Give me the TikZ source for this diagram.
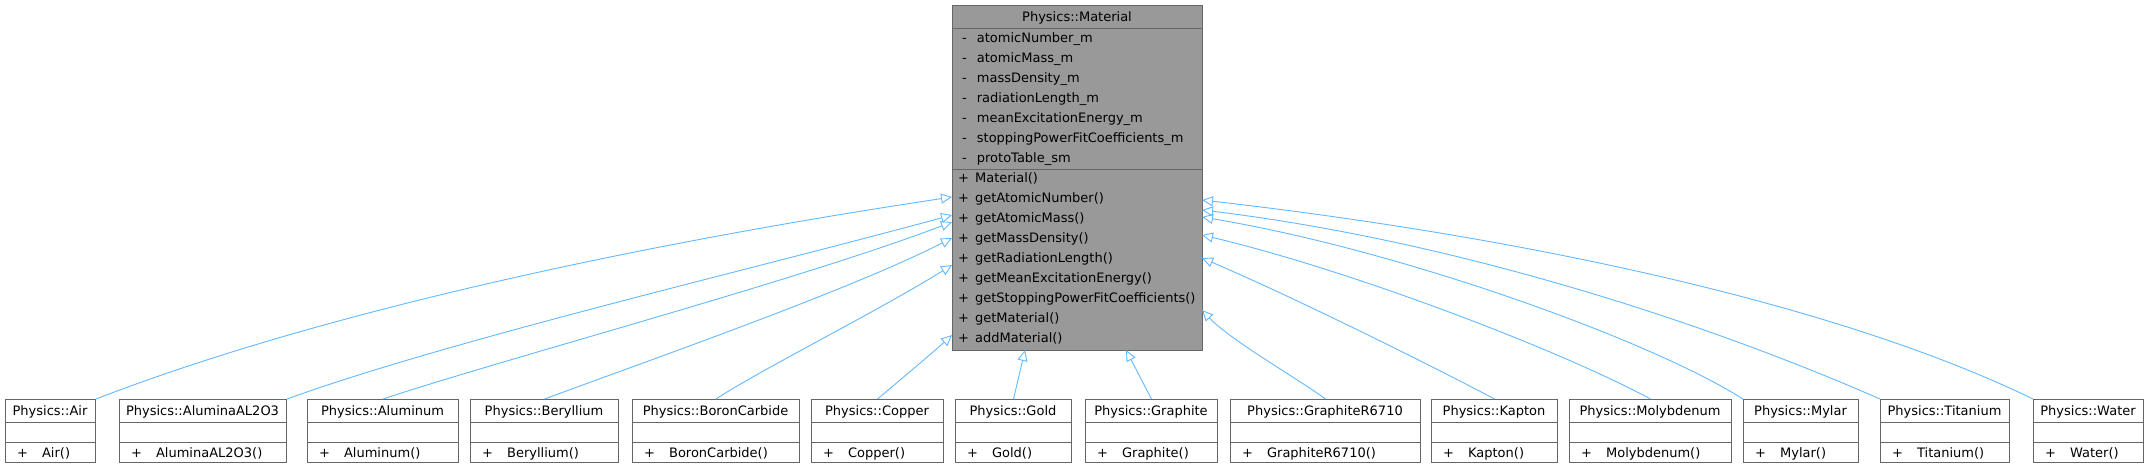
\documentclass[tikz,border=0pt]{standalone}
\usepackage{fontspec}
\setmainfont{DejaVu Sans}
\usetikzlibrary{calc,arrows.meta}
\definecolor{edgeblue}{RGB}{99,184,255}
\definecolor{boxgray}{RGB}{153,153,153}
\definecolor{linegray}{RGB}{102,102,102}
\tikzset{
  cls/.style={draw=linegray,line width=1pt,fill=white,inner sep=0pt,anchor=north west},
  inh/.style={draw=edgeblue,line width=0.9pt,{Triangle[open,length=11pt,width=10pt]}-},
  txt/.style={font=\fontsize{13}{15}\selectfont,inner sep=0pt,anchor=base west},
}
% derived class box: name, left x, right x, label, constructor
\newcommand{\derived}[5]{
  \node[cls,minimum width=#3-#2,minimum height=63] (#1) at (#2,399) {};
  \draw[linegray,line width=1pt] (#2,422) -- (#3,422) (#2,442) -- (#3,442);
  \node[txt,anchor=base] at ({(#2+#3)/2},415) {#4};
  \node[txt] at (#2+12,457) {+\hspace{14pt}#5};
}
\begin{document}
\begin{tikzpicture}[x=1pt,y=-1pt]
\useasboundingbox (0,0) rectangle (2149,469);
% base class
\node[cls,fill=boxgray,minimum width=250,minimum height=345] (mat) at (952,5) {};
\draw[linegray,line width=1pt] (952,28) -- (1202,28) (952,169) -- (1202,169);
\node[txt,anchor=base] at (1077,21) {Physics::Material};
\foreach \t [count=\i] in {atomicNumber\_m,atomicMass\_m,massDensity\_m,radiationLength\_m,meanExcitationEnergy\_m,stoppingPowerFitCoefficients\_m,protoTable\_sm}
  \node[txt] at (962,{22+20*\i}) {-\hspace{10pt}\t};
\foreach \t [count=\i] in {Material(),getAtomicNumber(),getAtomicMass(),getMassDensity(),getRadiationLength(),getMeanExcitationEnergy(),getStoppingPowerFitCoefficients(),getMaterial(),addMaterial()}
  \node[txt] at (958,{162+20*\i}) {+\hspace{6pt}\t};
% derived classes
\derived{air}{5}{95}{Physics::Air}{Air()}
\derived{alumina}{119}{286}{Physics::AluminaAL2O3}{AluminaAL2O3()}
\derived{aluminum}{307}{458}{Physics::Aluminum}{Aluminum()}
\derived{beryllium}{470}{618}{Physics::Beryllium}{Beryllium()}
\derived{boron}{632}{799}{Physics::BoronCarbide}{BoronCarbide()}
\derived{copper}{811}{943}{Physics::Copper}{Copper()}
\derived{gold}{955}{1071}{Physics::Gold}{Gold()}
\derived{graphite}{1085}{1217}{Physics::Graphite}{Graphite()}
\derived{graphiter}{1230}{1420}{Physics::GraphiteR6710}{GraphiteR6710()}
\derived{kapton}{1431}{1557}{Physics::Kapton}{Kapton()}
\derived{molyb}{1569}{1731}{Physics::Molybdenum}{Molybdenum()}
\derived{mylar}{1743}{1858}{Physics::Mylar}{Mylar()}
\derived{titanium}{1880}{2009}{Physics::Titanium}{Titanium()}
\derived{water}{2033}{2143}{Physics::Water}{Water()}
% inheritance
\coordinate (lAir) at (952,197);
\coordinate (lAlu) at (952,215);
\coordinate (lAlm) at (952,222);
\coordinate (lBer) at (952,238);
\coordinate (lBor) at (952,265);
\coordinate (lCop) at (952,335);
\coordinate (bGol) at (1025,350);
\coordinate (bGra) at (1126,350);
\coordinate (rGrr) at (1202,310);
\coordinate (rKap) at (1202,258);
\coordinate (rMol) at (1202,235);
\coordinate (rMyl) at (1202,217);
\coordinate (rTit) at (1202,210);
\coordinate (rWat) at (1202,200);
\draw[inh] (lAir) .. controls (600,250) and (300,320) .. (air.north east);
\draw[inh] (lAlu) .. controls (750,270) and (450,340) .. (alumina.north east);
\draw[inh] (lAlm) .. controls (800,280) and (500,360) .. (aluminum.north);
\draw[inh] (lBer) .. controls (850,290) and (650,360) .. (beryllium.north);
\draw[inh] (lBor) .. controls (880,310) and (760,370) .. (boron.north);
\draw[inh] (lCop) .. controls (930,355) and (900,380) .. (copper.north);
\draw[inh] (bGol) -- (gold.north);
\draw[inh] (bGra) -- (graphite.north);
\draw[inh] (rGrr) .. controls (1230,340) and (1300,380) .. (graphiter.north);
\draw[inh] (rKap) .. controls (1300,300) and (1440,370) .. (kapton.north);
\draw[inh] (rMol) .. controls (1350,270) and (1560,350) .. (molyb.north);
\draw[inh] (rMyl) .. controls (1400,250) and (1650,340) .. (mylar.north west);
\draw[inh] (rTit) .. controls (1450,240) and (1700,320) .. (titanium.north west);
\draw[inh] (rWat) .. controls (1550,240) and (1850,310) .. (water.north west);
\end{tikzpicture}
\end{document}
